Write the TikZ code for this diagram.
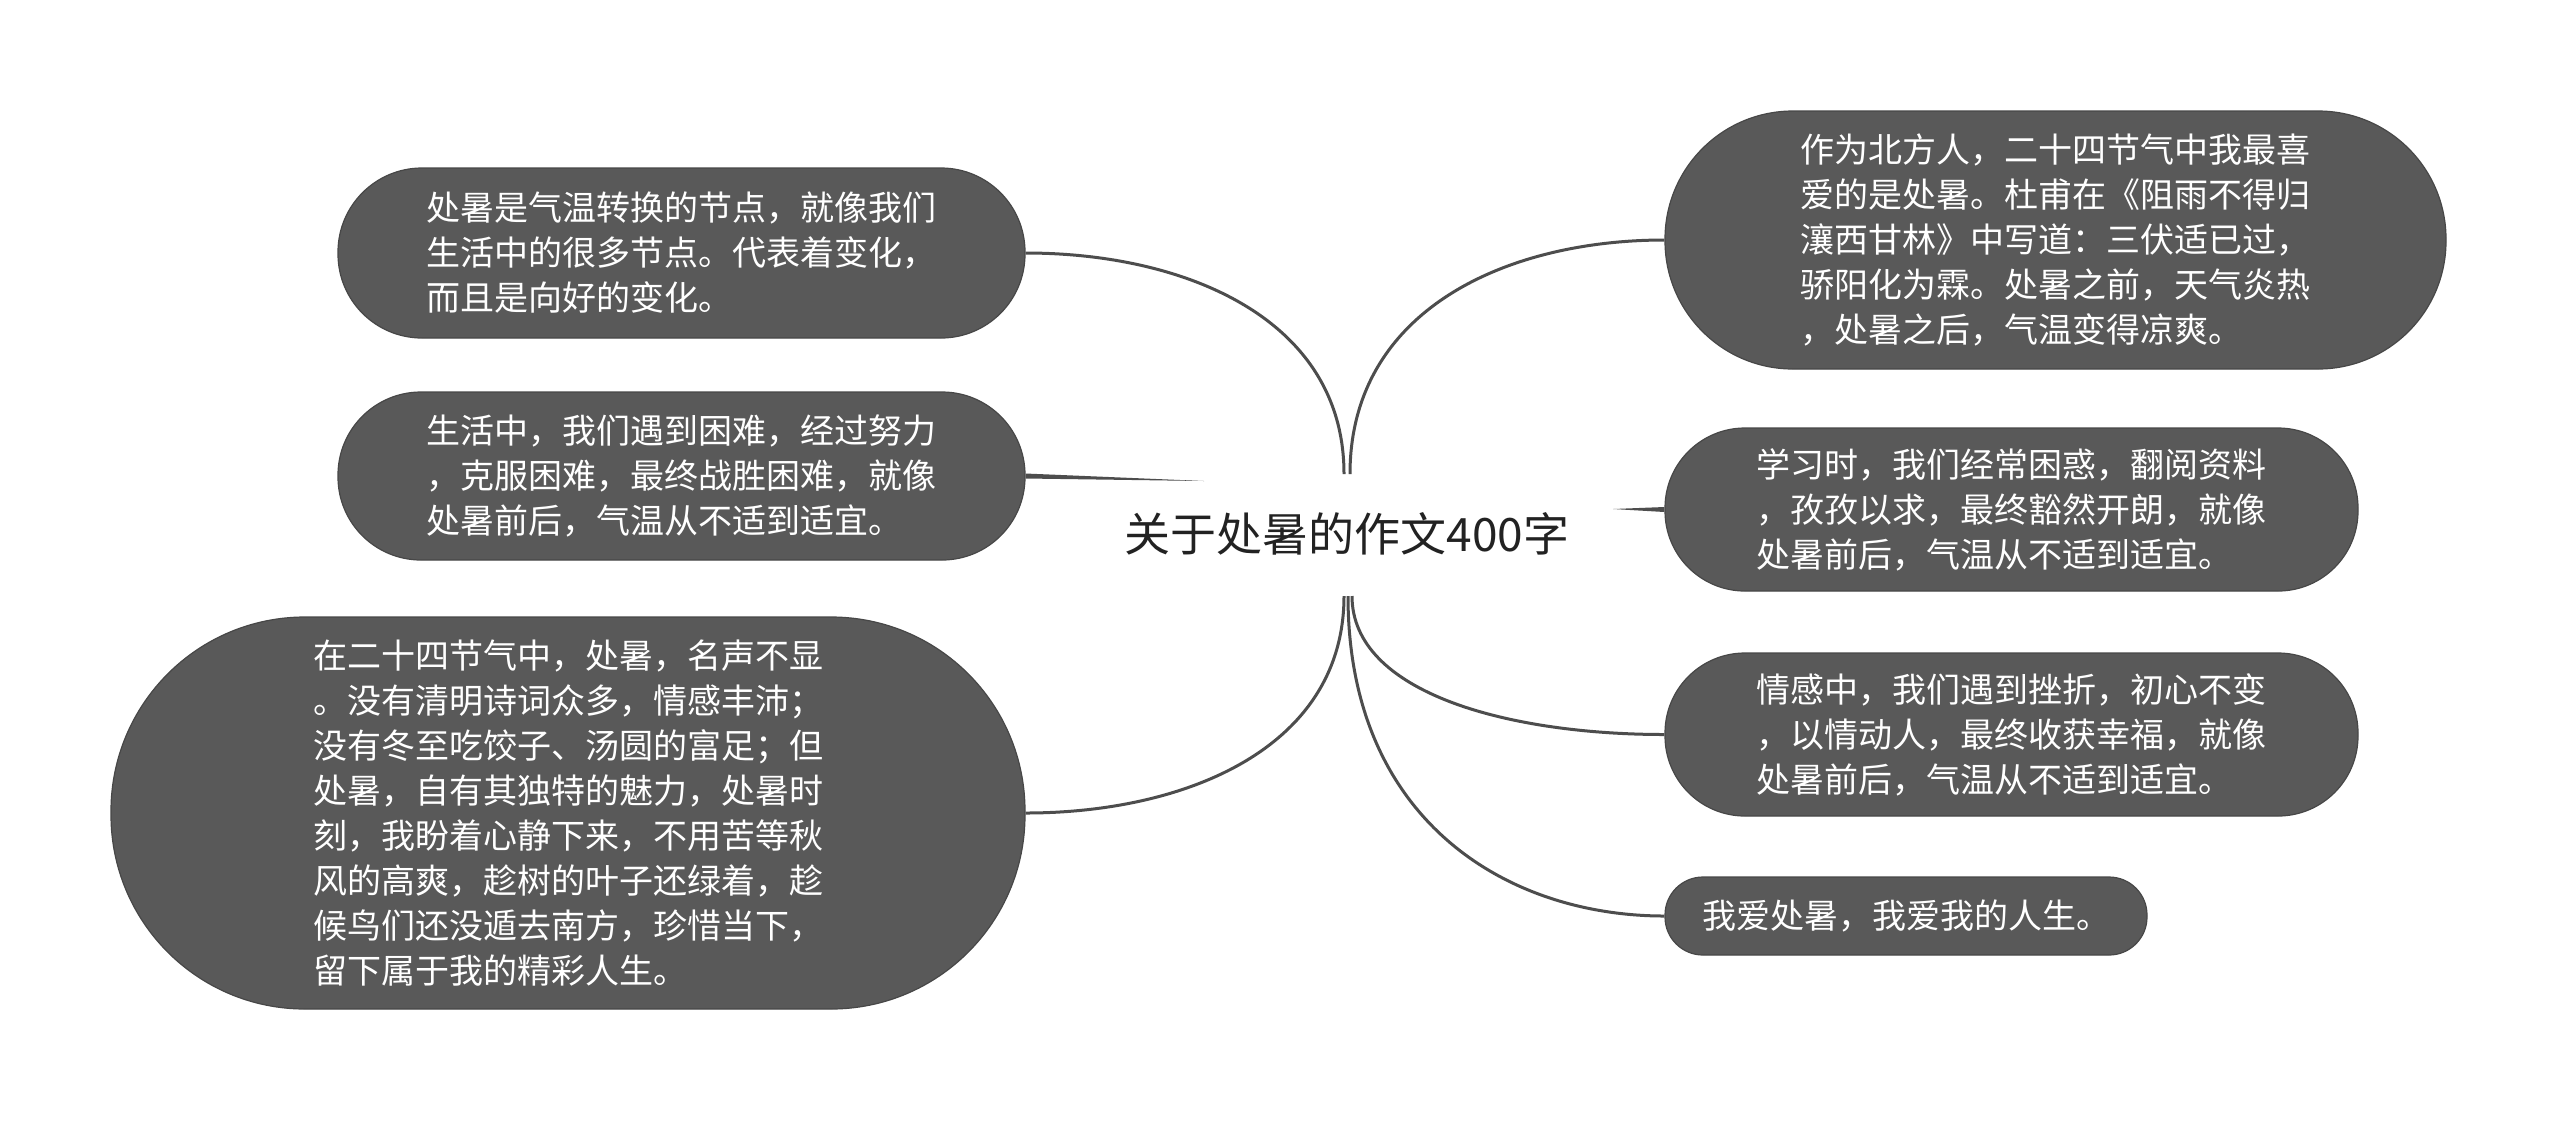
\documentclass[tikz,border=0pt]{standalone}
\usepackage{fontspec}
\setmainfont{Noto Sans CJK SC}
\usepackage{tikz}
\usetikzlibrary{calc}
\definecolor{boxgray}{HTML}{595959}
\definecolor{boxedge}{HTML}{474747}
\definecolor{linkgray}{HTML}{4D4D4D}
\definecolor{titleink}{HTML}{222222}

\begin{document}
\begin{tikzpicture}[
  x=0.5pt, y=-0.5pt,
  topic/.style={draw=boxedge, line width=0.6pt, fill=boxgray, text=white, align=left, inner sep=0pt, font=\fontsize{17pt}{22.5pt}\selectfont},
  root/.style={inner sep=0pt, text=titleink, font=\fontsize{23pt}{28pt}\selectfont},
  link/.style={draw=linkgray, line width=1.5pt}
]
\fill[white] (0,0) rectangle (2560,1121);
\useasboundingbox (0,0) rectangle (2560,1121);

% central topic and branch joints
\node[root] (root) at (1347,534) {关于处暑的作文400字};
\coordinate (jtopl) at (1344,474);
\coordinate (jtopr) at (1350,474);
\coordinate (jbotl) at (1344,596);
\coordinate (jbotm) at (1348,596);
\coordinate (jbotr) at (1352,596);
\coordinate (jleft) at (1204,481);
\coordinate (jright) at (1613,509);

% left side
\node[topic, minimum width=343.5pt, minimum height=85pt, rounded corners=42pt] (l1) at (681.5,253) {处暑是气温转换的节点，就像我们\\生活中的很多节点。代表着变化，\\而且是向好的变化。};
\node[topic, minimum width=343.5pt, minimum height=84pt, rounded corners=41.5pt] (l2) at (681.5,476) {生活中，我们遇到困难，经过努力\\，克服困难，最终战胜困难，就像\\处暑前后，气温从不适到适宜。};
\node[topic, minimum width=457pt, minimum height=196pt, rounded corners=97pt] (l3) at (568,813) {在二十四节气中，处暑，名声不显\\。没有清明诗词众多，情感丰沛；\\没有冬至吃饺子、汤圆的富足；但\\处暑，自有其独特的魅力，处暑时\\刻，我盼着心静下来，不用苦等秋\\风的高爽，趁树的叶子还绿着，趁\\候鸟们还没遁去南方，珍惜当下，\\留下属于我的精彩人生。};

% right side
\node[topic, minimum width=390.5pt, minimum height=129pt, rounded corners=64pt] (r1) at (2055.5,240) {作为北方人，二十四节气中我最喜\\爱的是处暑。杜甫在《阻雨不得归\\瀼西甘林》中写道：三伏适已过，\\骄阳化为霖。处暑之前，天气炎热\\，处暑之后，气温变得凉爽。};
\node[topic, minimum width=346.5pt, minimum height=81.5pt, rounded corners=40pt] (r2) at (2011.5,509.5) {学习时，我们经常困惑，翻阅资料\\，孜孜以求，最终豁然开朗，就像\\处暑前后，气温从不适到适宜。};
\node[topic, minimum width=346.5pt, minimum height=81.5pt, rounded corners=40pt] (r3) at (2011.5,734.5) {情感中，我们遇到挫折，初心不变\\，以情动人，最终收获幸福，就像\\处暑前后，气温从不适到适宜。};
\node[topic, minimum width=241pt, minimum height=39pt, rounded corners=19pt] (r4) at (1906,916) {我爱处暑，我爱我的人生。};

% branches
\draw[link] (jtopl) .. controls +(0,-155) and +(160,0) .. (l1.east);
\fill[linkgray] ($(l2.east)+(0,-2.5)$) -- (jleft) -- ($(l2.east)+(0,2.5)$) -- cycle;
\draw[link] (jbotl) .. controls +(0,152) and +(160,0) .. (l3.east);
\draw[link] (jtopr) .. controls +(0,-164) and +(-158,0) .. (r1.west);
\fill[linkgray] (jright) -- ($(r2.west)+(0,-2.5)$) -- ($(r2.west)+(0,2.5)$) -- cycle;
\draw[link] (jbotr) .. controls +(0,97) and +(-156,0) .. (r3.west);
\draw[link] (jbotm) .. controls +(0,224) and +(-158,0) .. (r4.west);
\end{tikzpicture}
\end{document}
